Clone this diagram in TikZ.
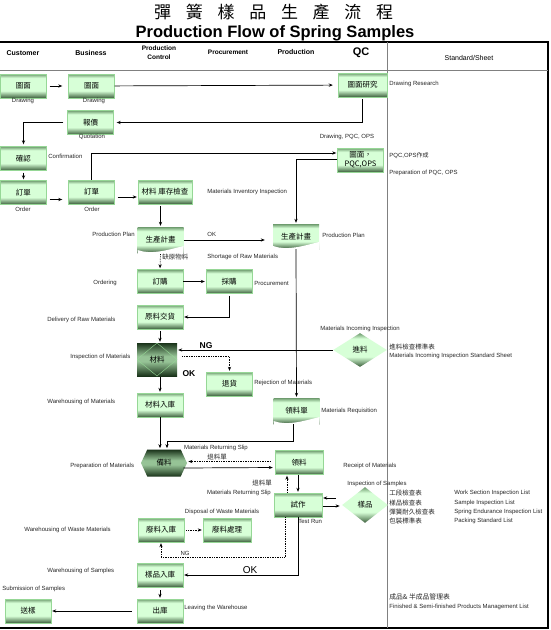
\documentclass[tikz,border=0pt]{standalone}
\usepackage{fontspec}
\setmainfont{Liberation Sans}
\newfontfamily\cjk{Noto Sans CJK TC}
\usetikzlibrary{shapes.geometric,shapes.symbols,arrows.meta}

\definecolor{gdark}{RGB}{60,95,60}
\definecolor{gtop}{RGB}{110,155,110}
\definecolor{glight}{RGB}{215,255,215}
\definecolor{gline}{RGB}{150,215,150}
\definecolor{ddark}{RGB}{25,50,25}
\definecolor{dmid}{RGB}{150,195,150}

\pgfdeclareverticalshading{boxshade}{100bp}{color(0bp)=(gdark); color(25bp)=(gdark); color(40bp)=(glight); color(67bp)=(glight); color(75bp)=(gtop); color(100bp)=(gtop)}
\pgfdeclareverticalshading{darkshade}{100bp}{color(0bp)=(ddark); color(25bp)=(ddark); color(47bp)=(dmid); color(55bp)=(dmid); color(75bp)=(ddark); color(100bp)=(ddark)}

\tikzset{
  box/.style={rectangle, draw=gline, line width=0.4pt, shading=boxshade, minimum width=46pt, minimum height=24pt, inner sep=1pt, font=\cjk\fontsize{7.5}{9}\selectfont, align=center},
  doc/.style={box, draw=none, path picture={\fill[white] ([yshift=3pt]path picture bounding box.south west) .. controls +(14pt,-5pt) and +(-16pt,-4pt) .. ([yshift=7pt]path picture bounding box.south east) -- ([yshift=-1pt]path picture bounding box.south east) -- ([yshift=-1pt]path picture bounding box.south west) -- cycle;}},
  insp/.style={box, draw=none, shading=darkshade, path picture={\draw[gline, line width=0.4pt] (path picture bounding box.north) -- (path picture bounding box.east) -- (path picture bounding box.south) -- (path picture bounding box.west) -- cycle;}},
  diam/.style={diamond, shading=boxshade, inner sep=0pt, font=\cjk\fontsize{7.5}{9}\selectfont},
  hexa/.style={signal, signal to=east and west, signal pointer angle=130, shading=darkshade, inner sep=0pt, minimum width=46pt, minimum height=27pt, font=\cjk\fontsize{7.5}{9}\selectfont},
  lbl/.style={font=\fontsize{6}{7}\selectfont, text=black!85, inner sep=0pt},
  zh/.style={font=\cjk\fontsize{6.5}{7}\selectfont, text=black!85, inner sep=0pt},
  head/.style={font=\bfseries\fontsize{7}{8}\selectfont, align=center, inner sep=0pt},
  flow/.style={->, shorten >=1pt},
  dots/.style={->, densely dotted, shorten >=1pt}
}

\begin{document}
\begin{tikzpicture}[x=1pt, y=-1pt, >={Stealth[length=4pt,width=3.2pt]}, line width=0.7pt]
  \useasboundingbox (0,0) rectangle (550,630);

  % title and frame
  \foreach \c [count=\i] in {彈,簧,樣,品,生,產,流,程}
    \node[font=\cjk\fontsize{17}{17}\selectfont, inner sep=0pt] (t\i) at (131+31.7*\i,12) {\c};
  \node[font=\bfseries\fontsize{16.5}{17}\selectfont, inner sep=0pt] (title) at (275,33) {Production Flow of Spring Samples};
  \draw[line width=1.2pt] (0,42) -- (548,42) -- (548,628);
  \draw[line width=1.6pt] (0,628) -- (549,628);
  \draw[gray, line width=0.5pt] (0,70) -- (548,70);
  \draw[gray, line width=0.6pt] (387,42) -- (387,628);

  % column heads
  \node[head] (hcust) at (23,53) {Customer};
  \node[head] (hbus) at (91,53) {Business};
  \node[head, font=\bfseries\fontsize{6.5}{9}\selectfont] (hpc) at (159,53) {Production\\Control};
  \node[head, font=\bfseries\fontsize{6.5}{7}\selectfont] (hproc) at (228,52) {Procurement};
  \node[head] (hprod) at (296,52) {Production};
  \node[head, font=\bfseries\fontsize{11}{12}\selectfont] (hqc) at (361,53) {QC};
  \node[font=\fontsize{7}{8}\selectfont, inner sep=0pt] (hstd) at (469,58) {Standard/Sheet};

  % boxes
  \node[box] (cdraw) at (23.5,86) {圖面};
  \node[box] (bdraw) at (91.5,86) {圖面};
  \node[box, minimum width=49pt] (qdraw) at (362.5,85) {圖面研究};
  \node[box] (bquote) at (90.5,122.5) {報價};
  \node[box] (cconf) at (23.5,158.5) {確認};
  \node[box] (corder) at (23.5,192.5) {訂單};
  \node[box] (border) at (91.5,192) {訂單};
  \node[box, minimum width=54pt] (pcstock) at (165,192) {材料\ 庫存檢查};
  \node[box, inner sep=0pt] (qpqc) at (360.5,160) {圖面，\\PQC,OPS};
  \node[doc, minimum height=26pt] (pcplan) at (160.5,240) {生產計畫};
  \node[doc, minimum height=25pt] (pplan) at (296,236.5) {生產計畫};
  \node[box] (pcorder) at (160,281.5) {訂購};
  \node[box] (procbuy) at (229,281.5) {採購};
  \node[box] (pcdeliv) at (160,317) {原料交貨};
  \node[insp, minimum width=40pt, minimum height=33pt] (pcinsp) at (157,359.5) {材料};
  \node[diam, minimum width=54pt, minimum height=34pt] (qinc) at (360,350) {進料};
  \node[box] (procrej) at (229.5,384) {退貨};
  \node[box] (pcstore) at (160,405) {材料入庫};
  \node[doc, minimum height=26pt] (preq) at (296.5,411) {領料單};
  \node[hexa] (pcprep) at (164,463) {備料};
  \node[box, minimum width=48pt] (precv) at (299,462.5) {領料};
  \node[box, minimum width=48pt] (ptest) at (298,505) {試作};
  \node[diam, minimum width=46pt, minimum height=36pt] (qsample) at (365,505) {樣品};
  \node[box] (pcwaste) at (161,530) {廢料入庫};
  \node[box, minimum width=48pt] (procdisp) at (227,530) {廢料處理};
  \node[box] (pcsample) at (160,575) {樣品入庫};
  \node[box] (pcout) at (160,611) {出庫};
  \node[box] (csend) at (28,611) {送樣};

  % labels
  \node[lbl] (ldraw1) at (23,101) {Drawing};
  \node[lbl] (ldraw2) at (94,101) {Drawing};
  \node[lbl, anchor=west] (lres) at (389,84) {Drawing Research};
  \node[lbl] (lquote) at (92,137) {Quotation};
  \node[lbl, anchor=west] (lconf) at (48,156) {Confirmation};
  \node[lbl] (lord1) at (23,209) {Order};
  \node[lbl] (lord2) at (92,209) {Order};
  \node[lbl] (lpqc) at (347,137) {Drawing, PQC, OPS};
  \node[lbl, anchor=west] (lpqc2) at (389,156) {PQC,OPS{\cjk 作成}};
  \node[lbl, anchor=west] (lpqc3) at (389,173) {Preparation of PQC, OPS};
  \node[lbl, anchor=west] (lstock) at (207,192) {Materials Inventory Inspection};
  \node[lbl, anchor=east] (lplan1) at (135,234) {Production Plan};
  \node[lbl, anchor=west] (lok1) at (207,234) {OK};
  \node[lbl, anchor=west] (lplan2) at (322,235) {Production Plan};
  \node[lbl, anchor=west] (lshort) at (207,257) {Shortage of Raw Materials};
  \node[zh, anchor=west] (lshortzh) at (162,257) {缺原物料};
  \node[lbl, anchor=west] (lorder) at (93,283) {Ordering};
  \node[lbl, anchor=west] (lbuy) at (254,283) {Procurement};
  \node[lbl, anchor=west] (ldeliv) at (47,320) {Delivery of Raw Materials};
  \node[lbl] (linc) at (360,329) {Materials Incoming Inspection};
  \node[zh, anchor=west] (lincstd) at (389,347) {進料檢查標準表};
  \node[lbl, anchor=west] (lincstd2) at (389,356) {Materials Incoming Inspection Standard Sheet};
  \node[lbl, anchor=west] (linsp) at (70,357) {Inspection of Materials};
  \node[font=\bfseries\fontsize{8.5}{9}\selectfont, inner sep=0pt] (lng1) at (206,346) {NG};
  \node[font=\bfseries\fontsize{8.5}{9}\selectfont, inner sep=0pt] (lok2) at (189,374) {OK};
  \node[lbl, anchor=west] (lrej) at (254,383) {Rejection of Materials};
  \node[lbl, anchor=west] (lstore) at (47,402) {Warehousing of Materials};
  \node[lbl, anchor=west] (lreq) at (321,411) {Materials Requisition};
  \node[lbl] (lret1) at (216,448) {Materials Returning Slip};
  \node[zh] (lret1zh) at (217,457) {退料單};
  \node[lbl, anchor=west] (lprep) at (70,466) {Preparation of Materials};
  \node[lbl, anchor=west] (lrecv) at (343,466) {Receipt of Materials};
  \node[zh] (lret2zh) at (262,483) {退料單};
  \node[lbl] (lsample) at (377,484) {Inspection of Samples};
  \node[lbl] (lret2) at (239,493) {Materials Returning Slip};
  \node[lbl] (ldisp) at (222,512) {Disposal of Waste Materials};
  \node[lbl, anchor=west] (ltest) at (298,521) {Test Run};
  \node[lbl, anchor=west] (lwaste) at (24,530) {Warehousing of Waste Materials};
  \node[lbl] (lng2) at (185,553) {NG};
  \node[font=\fontsize{10}{10}\selectfont, inner sep=0pt] (lok3) at (250,570) {OK};
  \node[lbl, anchor=west] (lwsample) at (47,571) {Warehousing of Samples};
  \node[lbl, anchor=west] (lsend) at (2,589) {Submission of Samples};
  \node[lbl, anchor=west] (lout) at (184,608) {Leaving the Warehouse};
  \foreach \zhtxt/\entxt [count=\i] in {工段檢查表/Work Section Inspection List, 樣品檢查表/Sample Inspection List, 彈簧耐久檢查表/Spring Endurance Inspection List, 包裝標準表/Packing Standard List}
  {
    \node[zh, anchor=west] (szh\i) at (389,484+9.3*\i) {\zhtxt};
    \node[lbl, anchor=west] (sen\i) at (454,484+9.3*\i) {\entxt};
  }
  \node[zh, font=\cjk\fontsize{6.8}{7}\selectfont, anchor=west] (lmgt) at (389,597) {成品\& 半成品管理表};
  \node[lbl, anchor=west] (lmgt2) at (389,607) {Finished \& Semi-finished Products Management List};

  % connectors
  \draw[flow, shorten <=3pt, shorten >=6pt] (cdraw) -- (bdraw);
  \draw[flow, shorten >=5pt] (bdraw) -- (qdraw);
  \draw[flow, shorten <=2pt, shorten >=3pt] (qdraw.south) |- (bquote.east);
  \draw[flow, shorten <=4pt, shorten >=2pt] (bquote.west) -| (cconf.north);
  \draw[flow, shorten <=2pt] (cconf) -- (corder);
  \draw[flow, shorten <=3pt, shorten >=6pt] ([yshift=-7pt]corder.east) -- ([yshift=-7pt]corder.east -| border.west);
  \draw[flow] (border.north) |- ([yshift=7pt]qpqc.west);
  \draw[flow] ([yshift=1pt]qpqc.west) -| (pplan.north);
  \draw[flow, shorten <=3pt] ([yshift=-5pt]border.east) -- ([yshift=-5pt]pcstock.west);
  \draw[flow, shorten <=2pt] (pcplan.north |- pcstock.south) -- (pcplan.north);
  \draw[flow, shorten >=8pt] (pcplan.east) -- (pcplan.east -| pplan.west);
  \draw[dots, shorten <=1pt] (pcplan.south) -- (pcorder.north);
  \draw[flow, shorten >=1pt] (pcorder) -- (procbuy);
  \draw[flow, shorten <=2pt] (procbuy.south) |- (pcdeliv.east);
  \draw[flow, shorten <=2pt] (pcdeliv.south) -- (pcdeliv.south |- pcinsp.north);
  \draw[flow] (qinc.west) -- (qinc.west -| pcinsp.east);
  \draw[dots, shorten <=5pt] ([yshift=3pt]pcinsp.east) -| (procrej.north);
  \draw[flow, shorten <=1pt] (pcinsp.south -| pcstore.north) -- (pcstore.north);
  \draw[flow] (pplan.south) -- (preq.north);
  \draw[flow] (pcstore.south) -- (pcstore.south |- pcprep.north);
  \draw[flow] ([xshift=-3pt]preq.south) -- ++(0,17) -| ([xshift=3pt]pcprep.north);
  \draw[dots, shorten <=4pt] ([yshift=1pt]precv.west) -- ([yshift=1pt]precv.west -| pcprep.east);
  \draw[flow, shorten >=2pt] ([xshift=-4pt,yshift=-5pt]pcprep.east) -- ([yshift=-5pt]precv.west);
  \draw[flow] (precv.south -| ptest.north) -- (ptest.north);
  \draw[dots] ([xshift=-11pt]ptest.north) -- ([xshift=-11pt]ptest.north |- precv.south);
  \draw[flow, shorten <=6pt] ([yshift=7pt]qsample.west) -- ([yshift=7pt]ptest.east);
  \draw[flow, shorten <=1pt, shorten >=2pt] ([yshift=-1pt]ptest.east) -- ([yshift=-1pt]qsample.west);
  \draw[dots] ([xshift=-13pt]ptest.south) -- ++(0,40) -| (pcwaste.south);
  \draw[dots, shorten <=2pt] (pcwaste) -- (procdisp);
  \draw[flow] (ptest.south) |- (pcsample.east);
  \draw[flow, shorten <=3pt] (pcsample) -- (pcout);
  \draw[flow, shorten <=5pt] (pcout) -- (csend);
\end{tikzpicture}
\end{document}
